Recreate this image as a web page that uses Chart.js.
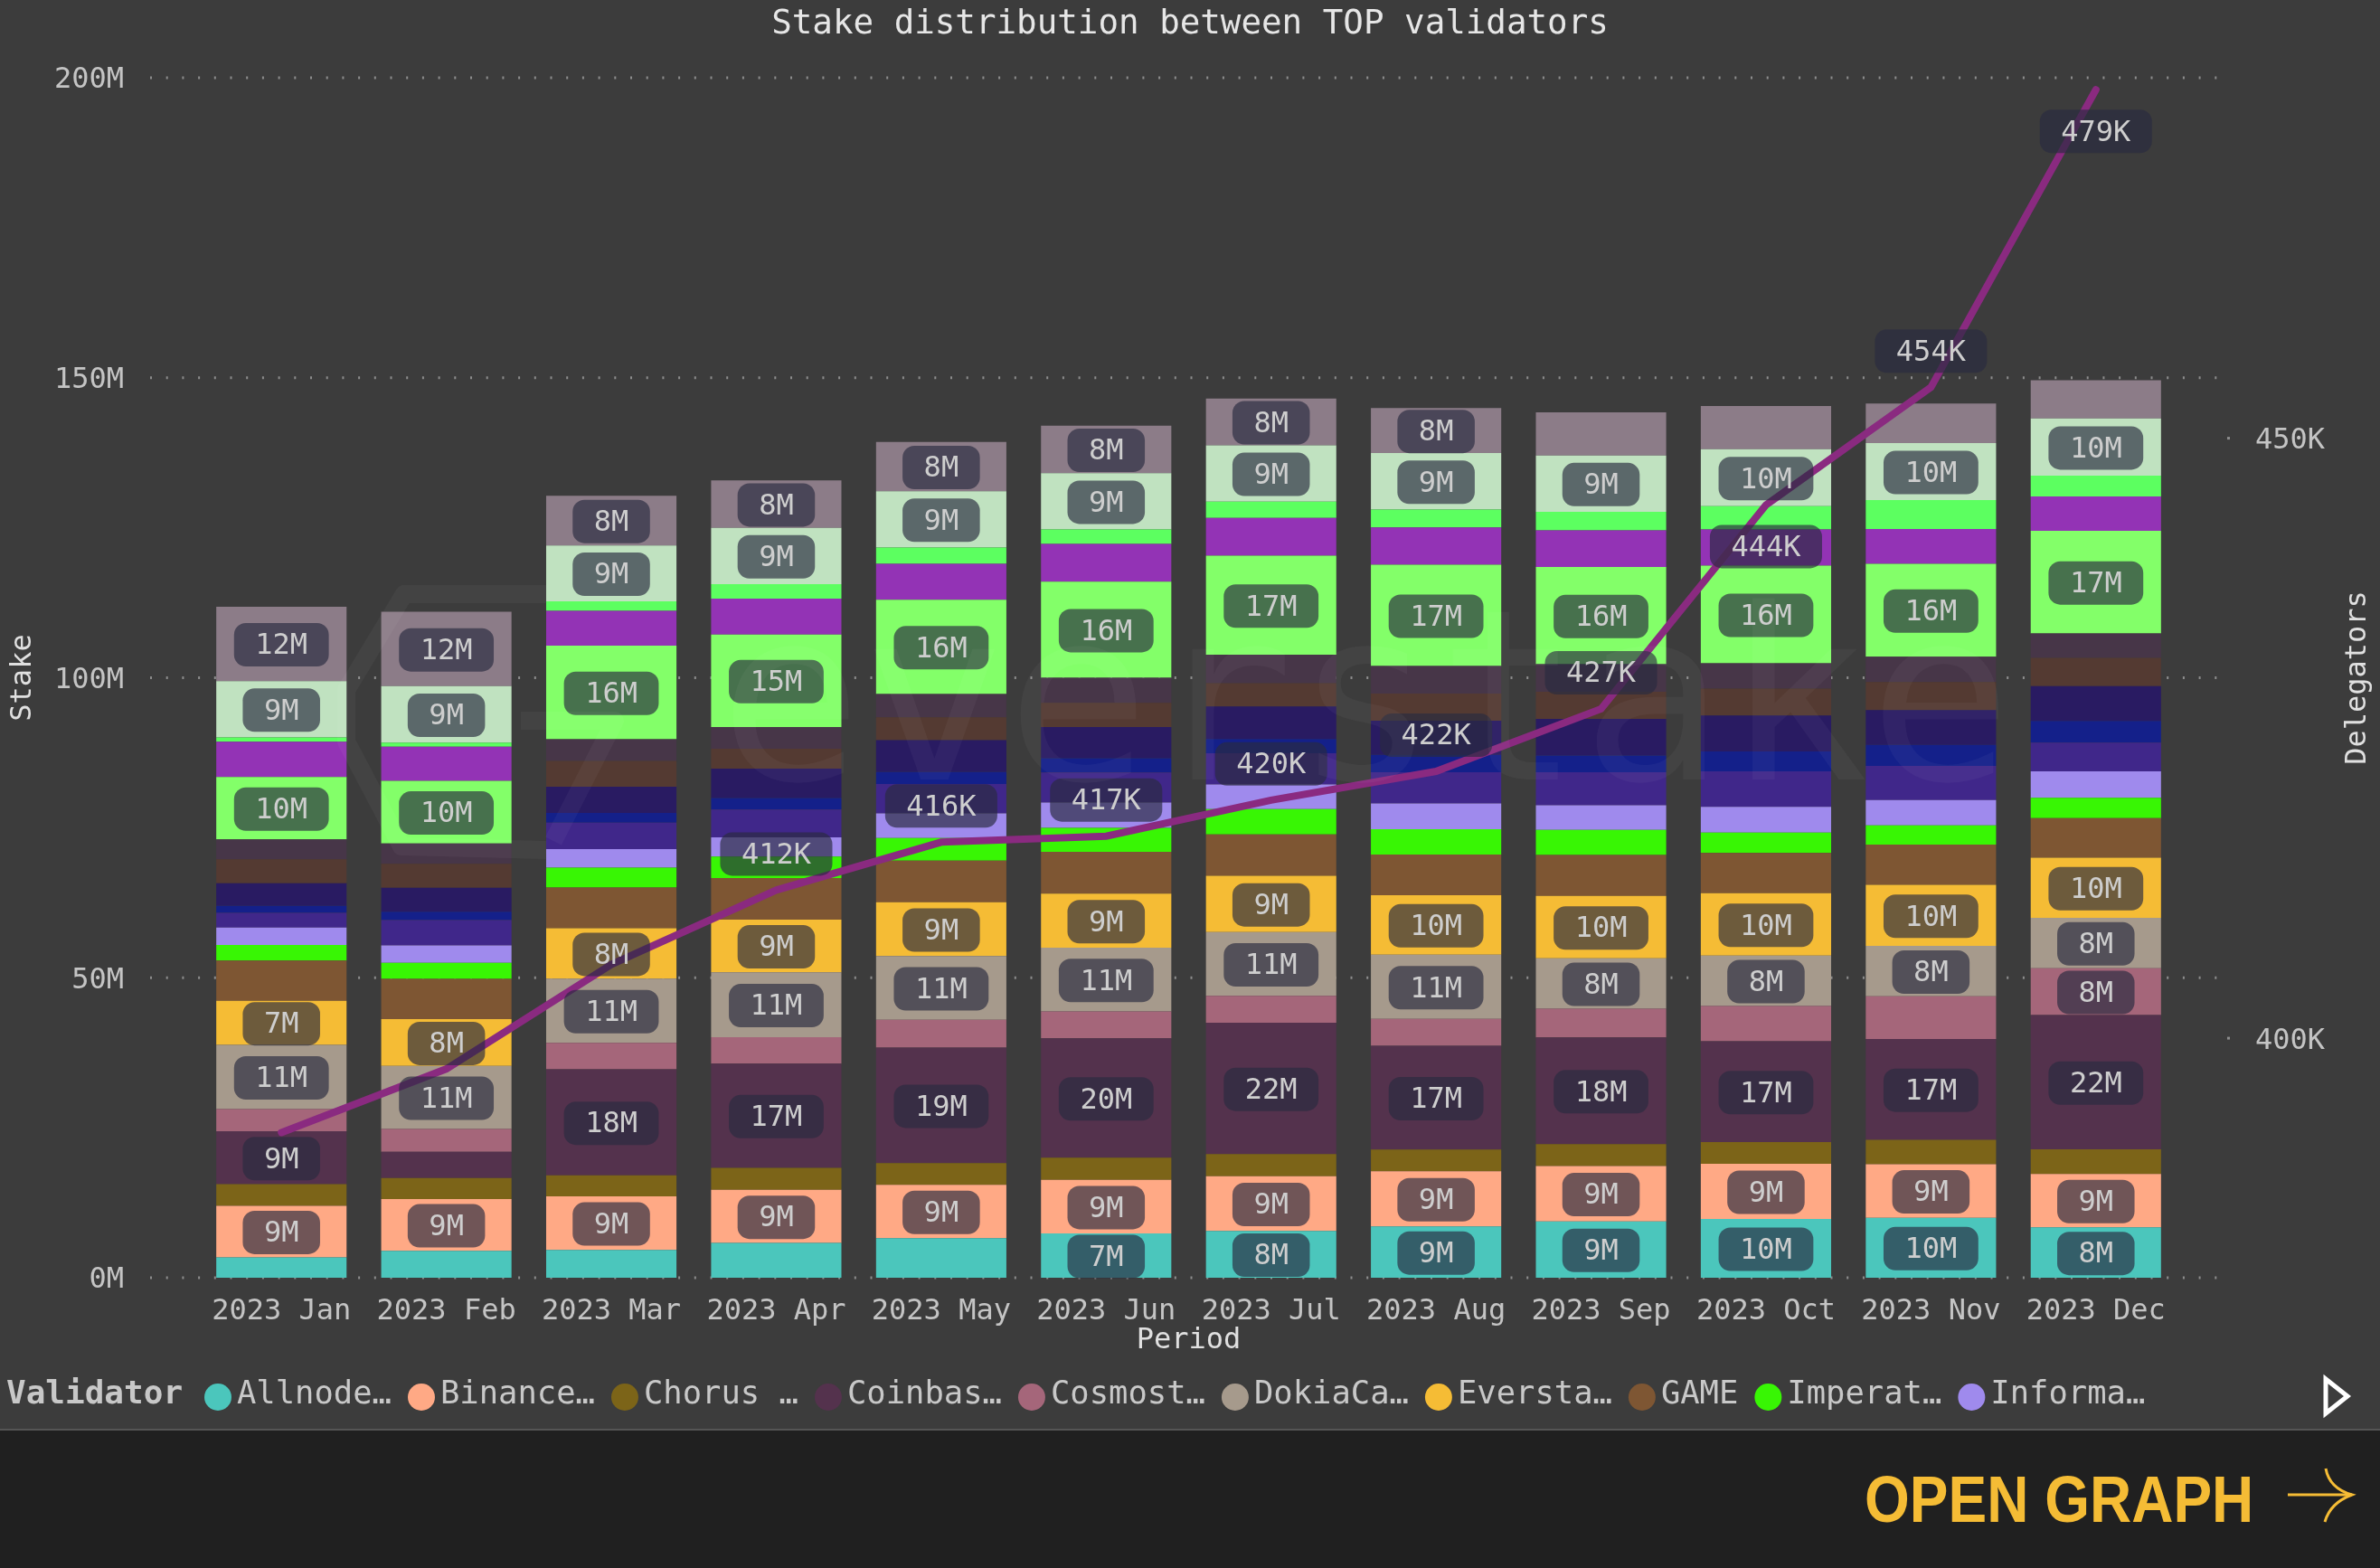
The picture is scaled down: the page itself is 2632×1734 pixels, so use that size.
<!DOCTYPE html>
<html>
<head>
<meta charset="utf-8">
<title>Stake distribution between TOP validators</title>
<script src="https://cdn.jsdelivr.net/npm/chart.js@4"></script>
<style>
    html, body { margin: 0; padding: 0; background: #202020; }
    #page { position: relative; width: 2632px; height: 1734px; overflow: hidden; background: #202020; }
    #panel { position: absolute; left: 0; top: 0; width: 2632px; height: 1581px; background: #3c3c3c; }
    #rule { position: absolute; left: 0; top: 1580px; width: 2632px; height: 2px; background: #555; }
    #open { position: absolute; left: 2062px; top: 1617px; color: #f5bc35; white-space: nowrap;
            font: bold 72px/82px "Liberation Sans", sans-serif; transform: scaleX(0.889); transform-origin: left top; }
    #arrow { position: absolute; left: 2523px; top: 1620px; }
</style>
</head>
<body>
<div id="page">
    <div id="panel"><canvas id="stakeChart"></canvas></div>
    <div id="rule"></div>
    <div id="open">OPEN GRAPH</div>
    <svg id="arrow" width="90" height="70" fill="none" stroke="#f5bc35" stroke-width="3">
        <path d="M7 33 H78"/>
        <path d="M49 4 Q53 26 78 33 Q54 42 48 63"/>
    </svg>
</div>
<script>
// months on the x axis
var months = ['2023 Jan', '2023 Feb', '2023 Mar', '2023 Apr', '2023 May', '2023 Jun',
    '2023 Jul', '2023 Aug', '2023 Sep', '2023 Oct', '2023 Nov', '2023 Dec'];

// stake per validator, in millions, bottom of the stack first
var allnodes = [3.4, 4.5, 4.65, 5.8, 6.6, 7.4, 7.8, 8.55, 9.4, 9.8, 10, 8.4];
var binance = [8.6, 8.6, 8.9, 8.85, 8.9, 8.9, 9.1, 9.2, 9.2, 9.2, 8.9, 8.9];
var chorus = [3.6, 3.5, 3.5, 3.65, 3.6, 3.7, 3.7, 3.6, 3.65, 3.6, 4.1, 4.1];
var coinbase = [8.8, 4.4, 17.7, 17.4, 19.25, 19.9, 21.9, 17.3, 17.8, 16.8, 16.8, 22.4];
var cosmostation = [3.7, 3.8, 4.4, 4.4, 4.65, 4.5, 4.5, 4.5, 4.8, 5.9, 7.1, 7.8];
var dokia = [10.7, 10.5, 10.7, 10.8, 10.6, 10.6, 10.6, 10.7, 8.4, 8.4, 8.4, 8.4];
var everstake = [7.35, 7.8, 8.4, 8.8, 9, 9, 9.4, 9.9, 10.4, 10.4, 10.2, 10];
var game = [6.7, 6.7, 6.8, 6.9, 6.9, 7, 6.9, 6.8, 6.8, 6.7, 6.7, 6.6];
var imperator = [2.6, 2.7, 3.3, 3.6, 3.8, 4, 4.2, 4.2, 4.2, 3.4, 3.2, 3.4];
var informal = [2.9, 2.9, 3.1, 3.2, 4.1, 4.2, 4.1, 4.3, 4.1, 4.3, 4.2, 4.4];
// the legend is cut off after Informal, the rest have no readable name
var validator11 = [2.45, 4.2, 4.4, 4.65, 4.9, 5, 5.2, 5.2, 5.5, 5.9, 5.7, 4.8];
var validator12 = [1.2, 1.4, 1.6, 1.9, 2, 2.4, 2.4, 2.9, 2.8, 3.3, 3.5, 3.6];
var validator13 = [3.75, 4, 4.4, 4.9, 5.3, 5.2, 5.4, 5.7, 6.1, 6, 5.8, 5.8];
var validator14 = [4, 4, 4.3, 3.3, 3.8, 4, 3.9, 4.5, 4.5, 4.5, 4.7, 4.7];
var validator15 = [3.3, 3.4, 3.6, 3.65, 3.9, 4.2, 4.75, 4.6, 4.6, 4.2, 4.2, 4.1];
var validator16 = [10.4, 10.4, 15.6, 15.4, 15.7, 16, 16.5, 16.9, 16.2, 16.3, 15.5, 17.1];
var validator17 = [5.9, 5.7, 5.8, 6, 6, 6.3, 6.3, 6.2, 6.1, 6, 5.8, 5.7];
var validator18 = [0.7, 0.7, 1.6, 2.4, 2.7, 2.4, 2.7, 3, 3.1, 3.9, 4.8, 3.5];
var validator19 = [9.4, 9.4, 9.3, 9.4, 9.4, 9.4, 9.4, 9.4, 9.4, 9.5, 9.5, 9.5];
var validator20 = [12.4, 12.4, 8.3, 7.9, 8.2, 7.9, 7.8, 7.5, 7.2, 7.2, 6.6, 6.4];

// delegators, in thousands
var delegators = [392.1, 397.4, 406.1, 412.3, 416.3, 416.8, 419.8, 422.2, 427.4, 444.4, 454.2, 479];

var seriesStakes = [allnodes, binance, chorus, coinbase, cosmostation, dokia, everstake, game, imperator, informal,
    validator11, validator12, validator13, validator14, validator15, validator16, validator17, validator18, validator19, validator20];
var seriesColors = ['#4bc6bc', '#ffa985', '#7c6418', '#54324d', '#a5667a', '#a69a8c', '#f5bc35', '#7e5633', '#38f604', '#9f8aed',
    '#40278a', '#14208a', '#291b62', '#543a32', '#473648', '#83ff69', '#9333b5', '#5cff60', '#c0e2c0', '#8c7c88'];
var seriesNames = ['Allnodes', 'Binance', 'Chorus One', 'Coinbase', 'Cosmostation', 'DokiaCapital', 'Everstake', 'GAME', 'Imperator', 'Informal',
    'Validator 11', 'Validator 12', 'Validator 13', 'Validator 14', 'Validator 15', 'Validator 16', 'Validator 17', 'Validator 18', 'Validator 19', 'Validator 20'];

// which months carry a value pill, per series (the others were hidden in the original)
var allMonths = [0, 1, 2, 3, 4, 5, 6, 7, 8, 9, 10, 11];
var seriesPills = [[5, 6, 7, 8, 9, 10, 11], allMonths, [], [0, 2, 3, 4, 5, 6, 7, 8, 9, 10, 11], [11], allMonths, allMonths, [], [], [],
    [], [], [], [], [], allMonths, [], [], allMonths, [0, 1, 2, 3, 4, 5, 6, 7]];
var delegatorPills = [3, 4, 5, 6, 7, 8, 9, 10, 11];
var delegatorPillsBelow = [9, 11];

var stakeTicks = [0, 50, 100, 150, 200];
var delegatorTicks = [400, 450];
var legendLabels = ['Allnode…', 'Binance…', 'Chorus …', 'Coinbas…', 'Cosmost…', 'DokiaCa…', 'Eversta…', 'GAME', 'Imperat…', 'Informa…'];

var mono = '"DejaVu Sans Mono", monospace';

// one bar dataset per validator plus the delegators line on top of them
var datasets = [{
    type: 'line',
    label: 'Delegators',
    data: delegators,
    yAxisID: 'y1',
    borderColor: '#8a2a80',
    borderWidth: 8,
    borderCapStyle: 'round',
    pointRadius: 0,
    tension: 0,
    order: 0
}];
seriesStakes.forEach(function (values, i) {
    datasets.push({
        type: 'bar',
        label: seriesNames[i],
        data: values,
        yAxisID: 'y',
        backgroundColor: seriesColors[i],
        borderWidth: 0,
        barPercentage: 0.79,
        categoryPercentage: 1,
        order: 1
    });
});

function drawPill(ctx, text, x, y) {
    var w = ctx.measureText(text).width + 47;
    ctx.fillStyle = 'rgba(42,43,64,0.67)';
    ctx.beginPath();
    ctx.roundRect(x - w / 2, y - 23, w, 48, 13);
    ctx.fill();
    ctx.fillStyle = '#cecece';
    ctx.fillText(text, x, y + 3);
}

// dotted grid reaches past the bars on both sides, so it is not the scale's own grid
var dottedGrid = {
    id: 'dottedGrid',
    beforeDatasetsDraw: function (chart) {
        var ctx = chart.ctx;
        ctx.save();
        ctx.strokeStyle = '#8c8c8c';
        ctx.lineWidth = 3;
        ctx.setLineDash([2, 15.7]);
        stakeTicks.forEach(function (t) {
            var y = chart.scales.y.getPixelForValue(t);
            ctx.beginPath();
            ctx.moveTo(166, y);
            ctx.lineTo(2453, y);
            ctx.stroke();
        });
        ctx.setLineDash([]);
        ctx.fillStyle = '#8c8c8c';
        delegatorTicks.forEach(function (t) {
            ctx.fillRect(2463, chart.scales.y1.getPixelForValue(t) - 1, 3, 3);
        });
        ctx.restore();
    }
};

var valuePills = {
    id: 'valuePills',
    afterDatasetsDraw: function (chart) {
        var ctx = chart.ctx;
        ctx.save();
        ctx.font = '32px ' + mono;
        ctx.textAlign = 'center';
        ctx.textBaseline = 'middle';
        seriesStakes.forEach(function (values, i) {
            var bars = chart.getDatasetMeta(i + 1).data;
            seriesPills[i].forEach(function (m) {
                drawPill(ctx, Math.round(values[m]) + 'M', bars[m].x, (bars[m].y + bars[m].base) / 2);
            });
        });
        var points = chart.getDatasetMeta(0).data;
        delegatorPills.forEach(function (m) {
            var below = delegatorPillsBelow.indexOf(m) >= 0;
            drawPill(ctx, Math.round(delegators[m]) + 'K', points[m].x, points[m].y + (below ? 45 : -41));
        });
        ctx.restore();
    }
};

// faint everstake mark laid over the whole plot
var watermark = {
    id: 'watermark',
    afterDatasetsDraw: function (chart) {
        var ctx = chart.ctx;
        ctx.save();
        ctx.fillStyle = 'rgba(255,255,255,0.04)';
        ctx.strokeStyle = 'rgba(255,255,255,0.04)';
        ctx.font = '264px ' + mono;
        ctx.textAlign = 'left';
        ctx.textBaseline = 'alphabetic';
        ctx.fillText('everstake', 795, 862);
        ctx.lineWidth = 20;
        ctx.lineJoin = 'round';
        ctx.beginPath();
        ctx.moveTo(604, 657);
        ctx.lineTo(447, 657);
        ctx.lineTo(383, 763);
        ctx.lineTo(383, 820);
        ctx.lineTo(444, 936);
        ctx.lineTo(604, 940);
        ctx.moveTo(576, 797);
        ctx.lineTo(680, 797);
        ctx.lineTo(612, 930);
        ctx.stroke();
        ctx.restore();
    }
};

// the legend row is cut short in the original: title, ten items and a pager arrow
var legendRow = {
    id: 'legendRow',
    afterDraw: function (chart) {
        var ctx = chart.ctx;
        var y = 1543;
        var x = 241;
        ctx.save();
        ctx.textBaseline = 'middle';
        ctx.textAlign = 'left';
        ctx.fillStyle = '#c8c8c8';
        ctx.font = 'bold 36px ' + mono;
        ctx.fillText('Validator', 7, y);
        ctx.font = '35.5px ' + mono;
        legendLabels.forEach(function (label, i) {
            ctx.fillStyle = seriesColors[i];
            ctx.beginPath();
            ctx.arc(x, y + 2, 15, 0, Math.PI * 2);
            ctx.fill();
            ctx.fillStyle = '#c8c8c8';
            ctx.fillText(label, x + 21, y);
            x += 21 + ctx.measureText(label).width + 33;
        });
        ctx.strokeStyle = '#ffffff';
        ctx.lineWidth = 5;
        ctx.beginPath();
        ctx.moveTo(2572, 1525);
        ctx.lineTo(2596, 1544);
        ctx.lineTo(2572, 1563);
        ctx.closePath();
        ctx.stroke();

        // Chart.js always turns a right axis title clockwise, the original reads upwards
        ctx.translate(2608, chart.scales.y1.getPixelForValue(430));
        ctx.rotate(-Math.PI / 2);
        ctx.textAlign = 'center';
        ctx.fillStyle = '#e0e0e0';
        ctx.font = '32px ' + mono;
        ctx.fillText('Delegators', 0, 0);
        ctx.restore();
    }
};

// fixed axis sizes, no extra room for the outer tick labels
function fixSize(prop, size) {
    return function (scale) {
        scale[prop] = size;
        scale.paddingTop = 0;
        scale.paddingBottom = 0;
        scale.paddingLeft = 0;
        scale.paddingRight = 0;
    };
}

document.addEventListener('DOMContentLoaded', function () {
    var canvas = document.getElementById('stakeChart');
    canvas.width = 2632;
    canvas.height = 1581;
    canvas.style.width = '2632px';
    canvas.style.height = '1581px';

    new Chart(canvas.getContext('2d'), {
        data: { labels: months, datasets: datasets },
        plugins: [dottedGrid, valuePills, watermark, legendRow],
        options: {
            responsive: false,
            animation: false,
            plugins: {
                legend: { display: false },
                tooltip: { enabled: false },
                title: {
                    display: true,
                    text: 'Stake distribution between TOP validators',
                    color: '#e6e6e6',
                    font: { family: mono, size: 37.5, weight: 'normal', lineHeight: 1.28 },
                    padding: { top: 3, bottom: 35 }
                }
            },
            scales: {
                x: {
                    stacked: true,
                    afterFit: fixSize('height', 168),
                    grid: { display: false, drawTicks: false },
                    border: { display: false },
                    ticks: { color: '#c4c4c4', font: { family: mono, size: 32 }, padding: 18, maxRotation: 0, autoSkip: false },
                    title: {
                        display: true,
                        text: 'Period',
                        color: '#e0e0e0',
                        font: { family: mono, size: 32 },
                        padding: { top: 0, bottom: 79 }
                    }
                },
                y: {
                    stacked: true,
                    position: 'left',
                    min: 0,
                    max: 200,
                    afterFit: fixSize('width', 220),
                    afterBuildTicks: function (scale) {
                        scale.ticks = stakeTicks.map(function (v) { return { value: v }; });
                    },
                    grid: { display: false, drawTicks: false },
                    border: { display: false },
                    ticks: {
                        color: '#c4c4c4',
                        font: { family: mono, size: 32 },
                        padding: 83,
                        labelOffset: 3,
                        callback: function (v) { return v + 'M'; }
                    },
                    title: {
                        display: true,
                        text: 'Stake',
                        color: '#e0e0e0',
                        font: { family: mono, size: 32 },
                        padding: { top: 6, bottom: 0 }
                    }
                },
                y1: {
                    position: 'right',
                    min: 380,
                    max: 480,
                    afterFit: fixSize('width', 223),
                    afterBuildTicks: function (scale) {
                        scale.ticks = delegatorTicks.map(function (v) { return { value: v }; });
                    },
                    grid: { display: false, drawTicks: false },
                    border: { display: false },
                    ticks: {
                        color: '#c4c4c4',
                        font: { family: mono, size: 32 },
                        padding: 85,
                        labelOffset: 4,
                        callback: function (v) { return v + 'K'; }
                    }
                }
            }
        }
    });
});
</script>
</body>
</html>
